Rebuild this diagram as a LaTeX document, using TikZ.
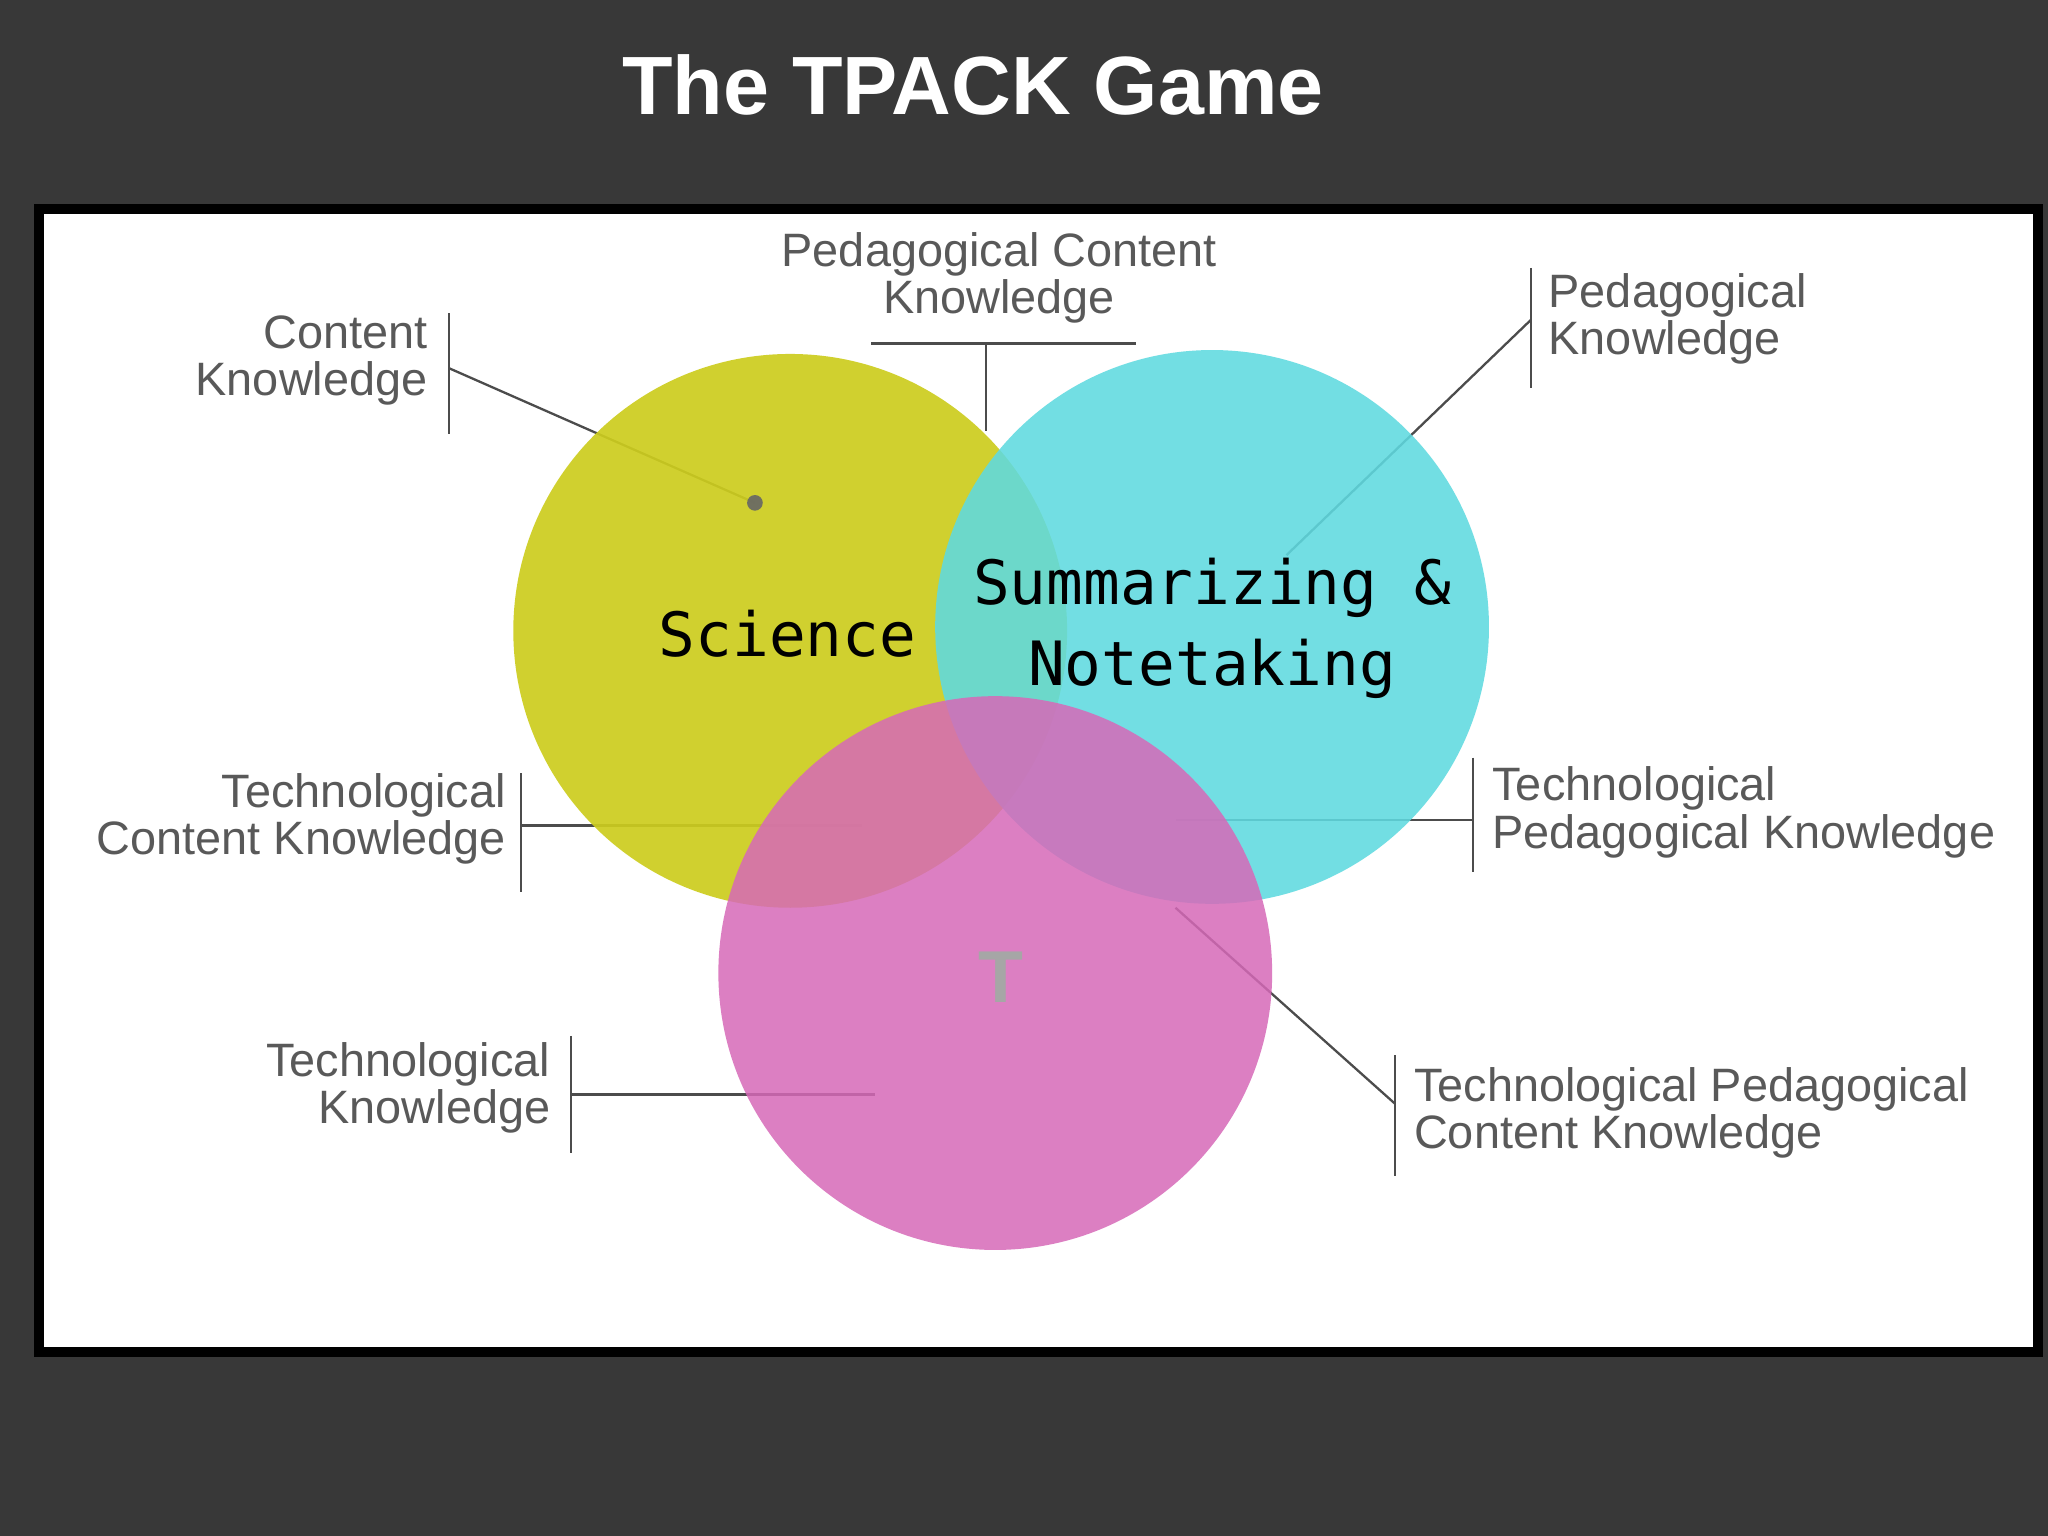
\documentclass[tikz,border=0pt]{standalone}
\usepackage{fontspec}
\setmainfont{Liberation Sans}
\newfontfamily\monof{DejaVu Sans Mono}
\begin{document}
\begin{tikzpicture}[x=0.01cm,y=-0.01cm,
  lab/.style={text=black!65,font=\fontsize{10.2}{10.3}\selectfont,inner sep=0pt},
  ln/.style={draw=black!70,line width=0.5pt},
  big/.style={font=\monof\fontsize{13.3}{17.6}\selectfont,text=black}]
\fill[black!78] (0,0) rectangle (1568,1176);
\useasboundingbox (0,0) rectangle (1568,1176);
\node[text=white,font=\bfseries\fontsize{18}{22}\selectfont] (title) at (745,65) {The TPACK Game};
\draw[fill=white,draw=black,line width=2.2pt] (30,160) rectangle (1560,1035);
% labels
\node[lab,align=right,anchor=east] (ck) at (328,276) {Content\\Knowledge};
\node[lab,align=center] (pck) at (765,213) {Pedagogical Content\\Knowledge};
\node[lab,align=left,anchor=west] (pk) at (1185,244) {Pedagogical\\Knowledge};
\node[lab,align=right,anchor=east] (tck) at (388,627) {Technological\\Content Knowledge};
\node[lab,align=left,anchor=west] (tpk) at (1142,622) {Technological\\Pedagogical Knowledge};
\node[lab,align=right,anchor=east] (tk) at (422,833) {Technological\\Knowledge};
\node[lab,align=left,anchor=west] (tpck) at (1082,852) {Technological Pedagogical\\Content Knowledge};
% leader lines
\coordinate (a1) at (344,240); \coordinate (a2) at (344,332);
\coordinate (ckd) at (578,385);
\draw[ln] (a1)--(a2); \draw[ln] (344,282)--(ckd);
\draw[ln] (667,263)--(870,263); \draw[ln] (755,263)--(755,330);
\draw[ln] (1172,205)--(1172,297); \draw[ln] (1172,245)--(985,425);
\draw[ln] (399,592)--(399,683); \draw[ln] (399,632)--(660,632);
\draw[ln] (1128,580)--(1128,668); \draw[ln] (1128,628)--(900,628);
\draw[ln] (437,793)--(437,883); \draw[ln] (437,838)--(670,838);
\draw[ln] (1068,808)--(1068,900); \draw[ln] (1068,845)--(900,695);
% circles
\fill[fill={rgb,255:red,205;green,205;blue,30},opacity=0.92] (605,483) circle (212);
\fill[black!60,opacity=0.9] (ckd) circle (6);
\fill[fill={rgb,255:red,95;green,218;blue,224},opacity=0.88] (928,480) circle (212);
\fill[fill={rgb,255:red,214;green,105;blue,184},opacity=0.85] (762,745) circle (212);
\node[text=black!35,font=\bfseries\fontsize{16}{16}\selectfont] (T) at (766,748) {T};
% main texts
\node[big] (sci) at (603,485) {Science};
\node[big,align=center] (sum) at (928,481) {Summarizing \&\\Notetaking};
\end{tikzpicture}
\end{document}
